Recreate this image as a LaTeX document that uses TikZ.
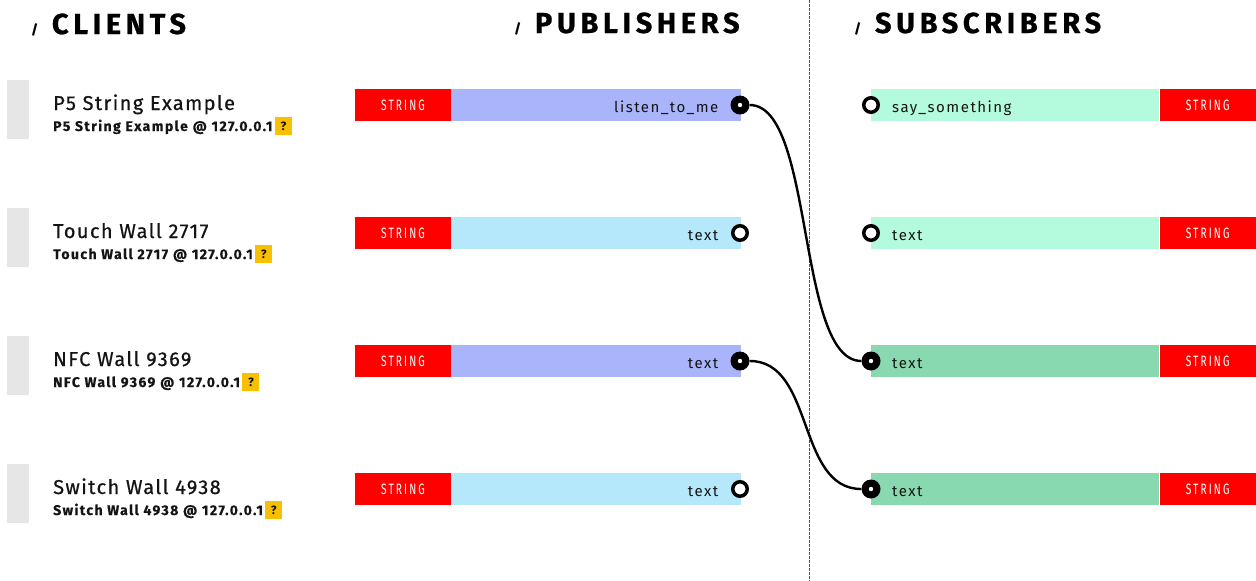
\documentclass[tikz,border=0pt]{standalone}
\usepackage{fontspec}
\setmainfont{Fira Sans}
\newfontfamily\headfont{Fira Sans}[LetterSpace=16, BoldFeatures={FakeBold=0.7}]
\newfontfamily\titlefont{Fira Sans}[LetterSpace=7, FakeBold=0.6]
\newfontfamily\subfont{Fira Sans}[LetterSpace=10, BoldFeatures={FakeBold=0.4}]
\newfontfamily\labelfont{Fira Sans}[LetterSpace=10]
\newfontfamily\typefont{Fira Sans}[FakeStretch=0.68, LetterSpace=14]

\definecolor{strred}{HTML}{FF0000}
\definecolor{pubon}{HTML}{AAB4FA}
\definecolor{puboff}{HTML}{B4E8FA}
\definecolor{subon}{HTML}{88D8B0}
\definecolor{suboff}{HTML}{B4FADC}
\definecolor{grip}{HTML}{E6E6E6}
\definecolor{helpy}{HTML}{F8C000}
\definecolor{ink}{HTML}{141414}
\definecolor{rule}{HTML}{555555}

\begin{document}
\begin{tikzpicture}[x=1pt, y=-1pt,
  heading/.style={anchor=base west, inner sep=0, text=black,
    font=\headfont\bfseries\fontsize{29}{29}\selectfont},
  handle/.style={fill=grip, minimum width=22pt, minimum height=59pt, inner sep=0},
  ctitle/.style={anchor=base west, inner sep=0, text=ink,
    font=\titlefont\fontsize{20}{20}\selectfont},
  csub/.style={anchor=base west, inner sep=0, text=ink,
    font=\subfont\bfseries\fontsize{14}{14}\selectfont},
  helpbox/.style={anchor=west, fill=helpy, minimum width=17pt, minimum height=18pt,
    inner sep=0, text=ink, font=\bfseries\fontsize{12}{12}\selectfont},
  stype/.style={fill=strred, minimum width=96pt, minimum height=32pt, inner sep=0,
    text=white, font=\typefont\fontsize{15}{15}\selectfont},
  pbar/.style={anchor=west, minimum height=32pt, inner ysep=0, inner xsep=23pt,
    text width=244pt, align=right, text=ink, text height=14pt, text depth=0pt,
    font=\labelfont\fontsize{15}{15}\selectfont},
  sbar/.style={anchor=west, minimum height=32pt, inner ysep=0, inner xsep=21pt,
    text width=246pt, align=left, text=ink, text height=14pt, text depth=0pt,
    font=\labelfont\fontsize{15}{15}\selectfont},
  plugon/.style={circle, fill=black, minimum size=19pt, inner sep=0,
    path picture={\fill[white] (path picture bounding box.center) circle (2.2pt);}},
  plugoff/.style={circle, draw=black, line width=3.5pt, fill=white,
    minimum size=14.5pt, inner sep=0},
  wire/.style={draw=black, line width=2.4pt},
  divider/.style={draw=rule, line width=0.8pt, dash pattern=on 2.5pt off 1.5pt}
]
\useasboundingbox (0,0) rectangle (1256,581);
\fill[white] (0,0) rectangle (1256,581);

% column headings
\node[heading] (hclients) at (31,34)
  {{\fontsize{13}{13}\selectfont /}\hspace{14pt}CLIENTS};
\node[heading] (hpub) at (514,33)
  {{\fontsize{13}{13}\selectfont /}\hspace{14pt}PUBLISHERS};
\node[heading] (hsub) at (854,33)
  {{\fontsize{13}{13}\selectfont /}\hspace{14pt}SUBSCRIBERS};

% divider between publishers and subscribers
\coordinate (dtop) at (809,0);
\coordinate (dbot) at (809,581);
\draw[divider] (dtop) -- (dbot);

% ---------- clients ----------
\node[handle] (g1) at (18,109.5) {};
\node[ctitle] (t1) at (53,110) {P5 String Example};
\node[csub] (s1) at (53,131) {P5 String Example @ 127.0.0.1};
\node[helpbox] (h1) at ([xshift=2pt,yshift=5pt]s1.base east) {?};

\node[handle] (g2) at (18,237.5) {};
\node[ctitle] (t2) at (53,238) {Touch Wall 2717};
\node[csub] (s2) at (53,259) {Touch Wall 2717 @ 127.0.0.1};
\node[helpbox] (h2) at ([xshift=2pt,yshift=5pt]s2.base east) {?};

\node[handle] (g3) at (18,365.5) {};
\node[ctitle] (t3) at (53,366) {NFC Wall 9369};
\node[csub] (s3) at (53,387) {NFC Wall 9369 @ 127.0.0.1};
\node[helpbox] (h3) at ([xshift=2pt,yshift=5pt]s3.base east) {?};

\node[handle] (g4) at (18,493.5) {};
\node[ctitle] (t4) at (53,494) {Switch Wall 4938};
\node[csub] (s4) at (53,515) {Switch Wall 4938 @ 127.0.0.1};
\node[helpbox] (h4) at ([xshift=2pt,yshift=5pt]s4.base east) {?};

% ---------- publishers ----------
\node[stype] (pt1) at (403,105) {STRING};
\node[pbar, fill=pubon] (pb1) at (pt1.east) {listen\_to\_me};
\node[plugon] (pp1) at (740,105) {};

\node[stype] (pt2) at (403,233) {STRING};
\node[pbar, fill=puboff] (pb2) at (pt2.east) {text};
\node[plugoff] (pp2) at (740,233) {};

\node[stype] (pt3) at (403,361) {STRING};
\node[pbar, fill=pubon] (pb3) at (pt3.east) {text};
\node[plugon] (pp3) at (740,361) {};

\node[stype] (pt4) at (403,489) {STRING};
\node[pbar, fill=puboff] (pb4) at (pt4.east) {text};
\node[plugoff] (pp4) at (740,489) {};

% ---------- subscribers ----------
\node[sbar, fill=suboff] (sb1) at (871,105) {say\_something};
\node[stype, anchor=west] (st1) at (sb1.east) {STRING};
\node[plugoff] (sp1) at (871,105) {};

\node[sbar, fill=suboff] (sb2) at (871,233) {text};
\node[stype, anchor=west] (st2) at (sb2.east) {STRING};
\node[plugoff] (sp2) at (871,233) {};

\node[sbar, fill=subon] (sb3) at (871,361) {text};
\node[stype, anchor=west] (st3) at (sb3.east) {STRING};
\node[plugon] (sp3) at (871,361) {};

\node[sbar, fill=subon] (sb4) at (871,489) {text};
\node[stype, anchor=west] (st4) at (sb4.east) {STRING};
\node[plugon] (sp4) at (871,489) {};

% ---------- connections ----------
\draw[wire] (pp1.east) .. controls +(65,0) and +(-65,0) .. (sp3.west);
\draw[wire] (pp3.east) .. controls +(65,0) and +(-65,0) .. (sp4.west);
\end{tikzpicture}
\end{document}
